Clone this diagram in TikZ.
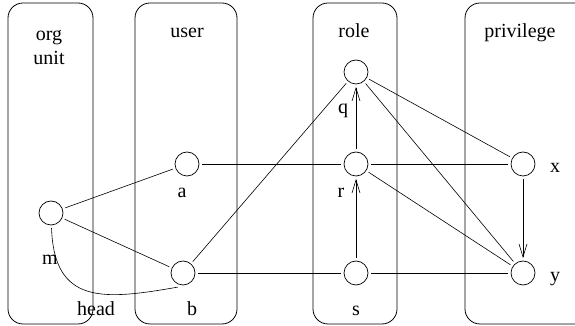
\documentclass[tikz,border=0pt]{standalone}
\usepackage{fontspec}
\setmainfont{Liberation Serif}
\usetikzlibrary{arrows.meta}

\begin{document}
\begin{tikzpicture}[
  x=1pt, y=1pt,
  font=\fontsize{20}{24}\selectfont,
  lane/.style={draw, rounded corners=15pt, line width=0.8pt},
  elem/.style={draw, circle, minimum size=24pt, inner sep=0pt, outer sep=3pt, line width=0.7pt},
  tag/.style={anchor=base, inner sep=0pt},
  link/.style={line width=0.6pt},
  order/.style={link, -{Straight Barb[length=13pt,width=8pt]}},
]
  \clip (0,0) rectangle (575,326);
  % columns
  \draw[lane] (8,2) rectangle (93,323);
  \draw[lane] (135,2) rectangle (237,323);
  \draw[lane] (313,2) rectangle (397,323);
  \draw[lane] (465,2) rectangle (600,323);
  \node[tag, anchor=north, align=center] (orgunit) at (49,296) {org\\unit};
  \node[tag] (user) at (187,288) {user};
  \node[tag] (role) at (354,288) {role};
  \node[tag] (privilege) at (520,288) {privilege};
  % elements
  \node[elem] (m) at (51,113) {};
  \node[elem] (a) at (187,162) {};
  \node[elem] (b) at (183,53) {};
  \node[elem] (q) at (356,254) {};
  \node[elem] (r) at (356,162) {};
  \node[elem] (s) at (356,53) {};
  \node[elem] (x) at (523,162) {};
  \node[elem] (y) at (523,53) {};
  \node[tag] (mlab) at (50,61) {m};
  \node[tag] (alab) at (182,128) {a};
  \node[tag] (blab) at (192,10) {b};
  \node[tag] (head) at (96,10) {head};
  \node[tag] (qlab) at (343,212) {q};
  \node[tag] (rlab) at (341,128) {r};
  \node[tag] (slab) at (356,10) {s};
  \node[tag] (xlab) at (555,153) {x};
  \node[tag] (ylab) at (555,44) {y};
  % relations
  \draw[link] (m) -- (a);
  \draw[link] (m) -- (b);
  \draw[link] (m.-88) to[out=-88, in=190, looseness=1.4] (b.250);
  \draw[link] (a) -- (r);
  \draw[link] (b) -- (q);
  \draw[link] (b) -- (s);
  \draw[link] (q) -- (x);
  \draw[link] (q) -- (y);
  \draw[link] (r) -- (x);
  \draw[link] (r) -- (y);
  \draw[link] (s) -- (y);
  \draw[order] (r) -- (q);
  \draw[order] (s) -- (r);
  \draw[order] (x) -- (y);
\end{tikzpicture}
\end{document}
